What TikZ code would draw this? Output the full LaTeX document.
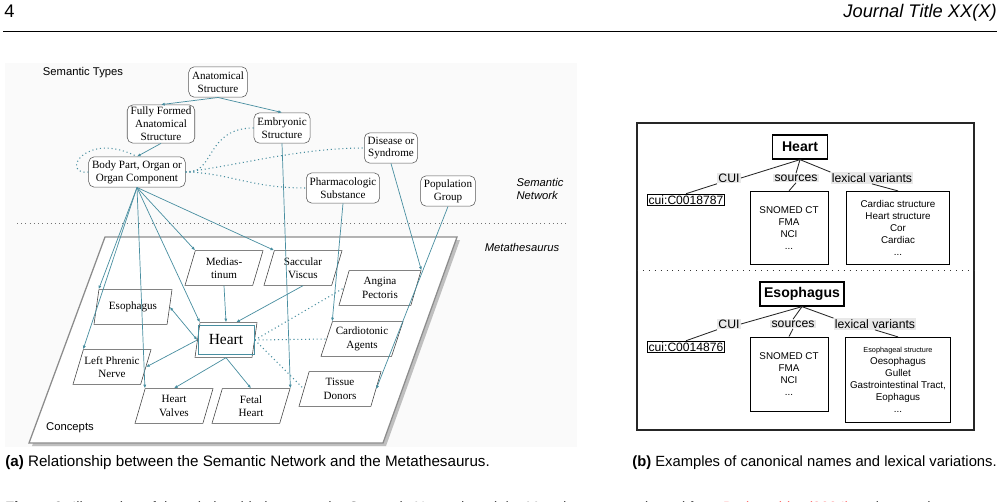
\documentclass[tikz,border=0pt]{standalone}
\usepackage{fontspec}
\setmainfont{Liberation Serif}
\setsansfont{Liberation Sans}
\usepackage{xcolor}
\usetikzlibrary{arrows.meta,positioning,shapes.geometric,calc}
\definecolor{linkteal}{RGB}{72,142,160}

\begin{document}
\begin{tikzpicture}[x=0.025cm, y=-0.025cm,
    >={Latex[length=2.6pt,width=2.2pt]},
    semtype/.style={draw=black!65, rounded corners=4pt, fill=white, align=center,
                    inner xsep=2.4pt, inner ysep=1.6pt, minimum height=0.76cm,
                    font=\fontsize{7.9}{9.2}\selectfont},
    concept/.style={trapezium, trapezium left angle=64, trapezium right angle=116,
                    trapezium stretches body, draw=black!75, fill=white,
                    minimum width=1.95cm, minimum height=0.87cm, inner sep=0pt,
                    align=center, font=\fontsize{7.9}{9.5}\selectfont},
    wide/.style={minimum width=2.05cm},
    link/.style={->, draw=linkteal, line width=0.5pt},
    dotlink/.style={draw=linkteal, line width=0.75pt, dotted},
    lbl/.style={font=\sffamily\fontsize{8}{9.5}\selectfont, align=left, inner sep=0pt},
    termbox/.style={draw, line width=0.9pt, font=\sffamily\bfseries\fontsize{10}{12}\selectfont,
                    minimum height=0.6cm, inner xsep=3pt},
    tag/.style={fill=black!9, inner sep=0.8pt, font=\sffamily\fontsize{8.7}{10}\selectfont},
    idbox/.style={draw, line width=0.6pt, inner sep=1pt, font=\sffamily\fontsize{8.6}{10}\selectfont},
    listbox/.style={draw, line width=0.7pt, align=center, minimum width=1.95cm,
                    font=\sffamily\fontsize{7}{8.5}\selectfont},
    tie/.style={draw=black!85, line width=0.6pt},
    caption/.style={font=\sffamily\fontsize{10.5}{12}\selectfont, inner sep=0pt},
  ]
    \useasboundingbox (0,0) rectangle (999,501);

    % --- page header ---
    \node[anchor=base west, inner sep=0pt, font=\sffamily\fontsize{13}{13}\selectfont] (pageno) at (4,17) {4};
    \node[anchor=base east, inner sep=0pt, font=\sffamily\itshape\fontsize{13}{13}\selectfont] (jtitle) at (997,17) {Journal Title XX(X)};
    \draw[line width=0.7pt] (3,31) -- (997,31);

    % --- (a) semantic network over the metathesaurus ---
    \fill[black!2] (5,63) rectangle (577,447);
    \node[lbl] (semtypes) at (83,73) {Semantic Types};
    \node[semtype] (anat) at (218,82) {Anatomical\\Structure};
    \node[semtype] (ffas) at (161,124) {Fully Formed\\Anatomical\\Structure};
    \node[semtype] (emb) at (282,128) {Embryonic\\Structure};
    \node[semtype] (bp) at (137,172) {Body Part, Organ or\\Organ Component};
    \node[semtype] (dis) at (391,148) {Disease or\\Syndrome};
    \node[semtype] (pharm) at (343,188) {Pharmacologic\\Substance};
    \node[semtype] (pop) at (448,191) {Population\\Group};
    \node[lbl, font=\sffamily\itshape\fontsize{8}{9.5}\selectfont] (semnet) at (540,189) {Semantic\\Network};

    \draw[black!55, dash pattern=on 0.6pt off 2.4pt] (17,223) -- (568,223);
    \node[lbl, font=\sffamily\itshape\fontsize{8}{9.5}\selectfont] (meta) at (522,247) {Metathesaurus};

    % metathesaurus plane
    \fill[black!25] (108,240) -- (460,240) -- (386,446) -- (32,446) -- cycle;
    \draw[black!45, line width=0.9pt, fill=white] (105,237) -- (457,237) -- (383,443) -- (29,443) -- cycle;
    \node[lbl] (concepts) at (70,428) {Concepts};

    % concepts
    \node[concept] (med) at (224,268) {Medias-\\tinum};
    \node[concept] (sacc) at (303,268) {Saccular\\Viscus};
    \node[concept] (eso) at (133,307) {Esophagus};
    \node[concept, minimum width=1.55cm, font=\fontsize{11}{12}\selectfont] (heart) at (226,340) {Heart};
    \node[concept, draw=linkteal, fill=none, minimum width=1.4cm, minimum height=0.73cm] (heartin) at (heart.center) {};
    \node[concept] (lpn) at (112,367) {Left Phrenic\\Nerve};
    \node[concept] (valves) at (174,406) {Heart\\Valves};
    \node[concept] (fetal) at (251,406) {Fetal\\Heart};
    \node[concept, wide] (angina) at (380,288) {Angina\\Pectoris};
    \node[concept, wide] (cardio) at (362,339) {Cardiotonic\\Agents};
    \node[concept, wide] (tissue) at (340,389) {Tissue\\Donors};

    % semantic type hierarchy
    \draw[link] (anat.south) -- (ffas.north);
    \draw[link] (anat.south) -- (emb.north);
    \draw[link] (ffas.south) -- (bp.north);
    \draw[dotlink] (bp.west) .. controls (60,175) and (85,130) .. (bp.north);
    \draw[dotlink] (bp.east) .. controls (215,175) and (205,128) .. (emb.west);
    \draw[dotlink] (bp.east) .. controls (240,165) and (300,148) .. (dis.west);
    \draw[dotlink] (bp.east) .. controls (230,173) and (250,188) .. (pharm.west);

    % types down to concepts
    \foreach \c in {eso, lpn, valves, heart, med, sacc}
      \draw[link] (bp.south) -- (\c.top left corner);
    \draw[link] (emb.south) -- (fetal.top right corner);
    \draw[link] (pharm.south) -- (cardio.top left corner);
    \draw[link] (dis.south) -- (angina.top right corner);
    \draw[link] (pop.south) -- (tissue.east);

    % concept relations
    \draw[link] (med.south) -- (heart.north);
    \draw[link] (sacc.south) -- (heart.60);
    \draw[link, <->] (eso.east) -- (heart.west);
    \draw[link] (heart.west) -- (lpn.east);
    \draw[link] (heart.south) -- (valves.north);
    \draw[link] (heart.south) -- (fetal.north);
    \draw[dotlink] (heart.east) -- (angina.west);
    \draw[dotlink] (heart.east) -- (cardio.west);
    \draw[dotlink] (heart.east) -- (tissue.west);

    % --- (b) canonical names and lexical variants ---
    \draw[black!85, line width=0.8pt] (637,123) rectangle (974,430);
    \draw[black!80, line width=0.6pt, dash pattern=on 0.6pt off 3.6pt] (637,270) -- (974,270);

    \node[termbox, minimum width=1.38cm] (hterm) at (800,147) {Heart};
    \node[tag] (hcui) at (729,178) {CUI};
    \node[tag] (hsrc) at (796,178) {sources};
    \node[tag] (hlex) at (872,178) {lexical variants};
    \node[idbox] (hid) at (686,200) {cui:C0018787};
    \node[listbox, minimum height=1.83cm] (hsrcbox) at (789,228) {SNOMED CT\\FMA\\NCI\\...};
    \node[listbox, minimum width=2.58cm, minimum height=1.83cm] (hlexbox) at (898,228)
      {Cardiac structure\\Heart structure\\Cor\\Cardiac\\...};
    \draw[tie] (hterm.south) -- (hcui.east);
    \draw[tie] (hcui.south west) -- (hid.north);
    \draw[tie] (hterm.south) -- (hsrc.north);
    \draw[tie] (hsrc.south) -- (hsrcbox.north);
    \draw[tie] (hterm.south) -- (hlex.north west);
    \draw[tie] (hlex.south) -- (hlexbox.north);

    \node[termbox] (eterm) at (802,294) {Esophagus};
    \node[tag] (ecui) at (729,324) {CUI};
    \node[tag] (esrc) at (793,324) {sources};
    \node[tag] (elex) at (875,324) {lexical variants};
    \node[idbox] (eid) at (686,347) {cui:C0014876};
    \node[listbox, minimum height=1.85cm] (esrcbox) at (789,374) {SNOMED CT\\FMA\\NCI\\...};
    \node[listbox, minimum width=2.58cm, minimum height=2.13cm] (elexbox) at (898,380)
      {{\fontsize{5.2}{6}\selectfont Esophageal structure}\\Oesophagus\\Gullet\\Gastrointestinal Tract,\\Eophagus\\...};
    \draw[tie] (eterm.south) -- (ecui.east);
    \draw[tie] (ecui.south west) -- (eid.north);
    \draw[tie] (eterm.south) -- (esrc.north);
    \draw[tie] (esrc.south) -- (esrcbox.north);
    \draw[tie] (eterm.south) -- (elex.north west);
    \draw[tie] (elex.south) -- (elexbox.north);

    % --- captions ---
    \node[caption, anchor=west, font=\sffamily\fontsize{10.8}{12}\selectfont] (capa) at (5,463) {\textbf{(a)} Relationship between the Semantic Network and the Metathesaurus.};
    \node[caption, anchor=east] (capb) at (997,463) {\textbf{(b)} Examples of canonical names and lexical variations.};
    \begin{scope}
      \clip (0,490) rectangle (999,501);
      \node[caption, anchor=base west] (figcap) at (5,512)
        {\textbf{Figure 2.} Illustration of the relationship between the Semantic Network and the Metathesaurus, adapted from \textcolor{red!80}{Bodenreider (2004)} and examples};
    \end{scope}
  \end{tikzpicture}
\end{document}
